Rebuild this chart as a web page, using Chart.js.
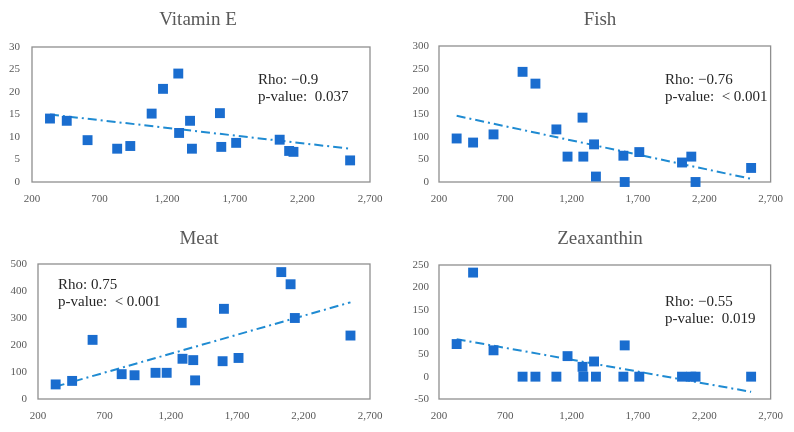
<!DOCTYPE html>
<html>
<head>
<meta charset="utf-8">
<script src="https://cdn.jsdelivr.net/npm/chart.js@4.4.1/dist/chart.umd.min.js"></script>
<style>
    body { margin: 0; background: #fff; }
    #wrap { position: relative; width: 794px; height: 432px; }
    .panel { position: absolute; width: 397px; height: 216px; }
</style>
</head>
<body>
<div id="wrap">
    <div class="panel" style="left:0;top:0"><canvas id="vitE" width="397" height="216"></canvas></div>
    <div class="panel" style="left:397px;top:0"><canvas id="fish" width="397" height="216"></canvas></div>
    <div class="panel" style="left:0;top:216px"><canvas id="meat" width="397" height="216"></canvas></div>
    <div class="panel" style="left:397px;top:216px"><canvas id="zea" width="397" height="216"></canvas></div>
</div>
<script>
// x values shared by all four panels
const intake = [333, 457, 611, 830, 927, 1085, 1169, 1282, 1288, 1369, 1383, 1590, 1600, 1710, 2032, 2102, 2134, 2553];

const vitaminE = [14.1, 13.6, 9.3, 7.4, 8.0, 15.2, 20.7, 24.1, 10.9, 13.6, 7.4, 15.3, 7.8, 8.7, 9.4, 6.9, 6.7, 4.8];
const fish = [96, 87, 105, 243, 217, 116, 56, 142, 56, 83, 12, 58, 0, 66, 43, 56, 0, 31];
const meat = [54, 67, 219, 92, 88, 97, 97, 282, 149, 144, 69, 140, 334, 152, 470, 425, 300, 235];
const zeaxanthin = [73, 233, 59, 0, 0, 0, 46, 22, 0, 34, 0, 0, 70, 0, 0, 0, 0, 0];

// trend line end points (start / end)
const trendX = [333, 2553];
const trendVitE = [15.0, 7.4];
const trendFish = [146, 7];
const trendMeat = [46, 358];
const trendZea = [84, -34];

const xTicks = [200, 700, 1200, 1700, 2200, 2700];

const serif = "'Liberation Serif', 'DejaVu Serif', serif";

// frame + title + rho text
const panelDeco = {
    id: 'panelDeco',
    beforeDatasetsDraw(chart) {
        const a = chart.chartArea;
        const ctx = chart.ctx;
        ctx.save();
        ctx.strokeStyle = '#8f8f8f';
        ctx.lineWidth = 1.3;
        ctx.strokeRect(a.left, a.top, a.right - a.left, a.bottom - a.top);
        ctx.restore();
    },
    afterDraw(chart) {
        const o = chart.options.plugins.panelDeco;
        const ctx = chart.ctx;
        ctx.save();
        ctx.fillStyle = '#595959';
        ctx.font = '19px ' + serif;
        ctx.textAlign = 'center';
        ctx.textBaseline = 'alphabetic';
        ctx.fillText(o.title, o.titleX, o.titleY);
        ctx.fillStyle = '#262626';
        ctx.font = '15px ' + serif;
        ctx.textAlign = 'left';
        ctx.fillText(o.rho, o.textX, o.textY);
        ctx.fillText(o.pval, o.textX, o.textY + 17);
        ctx.restore();
    }
};

function makePanel(id, values, trend, yMin, yMax, yStep, box, deco) {
    const points = intake.map((x, i) => ({ x: x, y: values[i] }));
    const line = trendX.map((x, i) => ({ x: x, y: trend[i] }));
    new Chart(document.getElementById(id), {
        type: 'scatter',
        data: {
            datasets: [{
                data: points,
                pointStyle: 'rect',
                pointRadius: 7,
                pointHoverRadius: 7,
                backgroundColor: '#1a6dcf',
                borderColor: '#1a6dcf',
                borderWidth: 0,
                clip: false,
                order: 1
            }, {
                type: 'line',
                data: line,
                borderColor: '#1f8bd2',
                borderWidth: 2,
                borderDash: [9, 4, 2, 4],
                pointRadius: 0,
                fill: false,
                clip: false,
                order: 2
            }]
        },
        options: {
            responsive: false,
            animation: false,
            events: [],
            layout: { padding: { left: 0, right: 397 - box.right, top: box.top, bottom: 0 } },
            plugins: {
                legend: { display: false },
                tooltip: { enabled: false },
                panelDeco: deco
            },
            scales: {
                x: {
                    type: 'linear',
                    min: 200,
                    max: 2700,
                    afterBuildTicks: s => { s.ticks = xTicks.map(v => ({ value: v })); },
                    afterFit: s => { s.height = 216 - box.bottom; },
                    grid: { display: false, drawTicks: false },
                    border: { display: false },
                    ticks: {
                        padding: 11,
                        color: '#595959',
                        font: { family: serif, size: 11 },
                        callback: v => v.toLocaleString('en-US')
                    }
                },
                y: {
                    min: yMin,
                    max: yMax,
                    afterFit: s => { s.width = box.left; },
                    grid: { display: false, drawTicks: false },
                    border: { display: false },
                    ticks: {
                        stepSize: yStep,
                        padding: box.tickPad,
                        color: '#595959',
                        font: { family: serif, size: 11 }
                    }
                }
            }
        },
        plugins: [panelDeco]
    });
}

makePanel('vitE', vitaminE, trendVitE, 0, 30, 5,
    { left: 32, right: 370, top: 47, bottom: 182, tickPad: 12 },
    { title: 'Vitamin E', titleX: 198, titleY: 25, rho: 'Rho: \u22120.9', pval: 'p-value:  0.037', textX: 258, textY: 84 });

makePanel('fish', fish, trendFish, 0, 300, 50,
    { left: 42, right: 376, top: 46, bottom: 182, tickPad: 10 },
    { title: 'Fish', titleX: 203, titleY: 25, rho: 'Rho: \u22120.76', pval: 'p-value:  < 0.001', textX: 268, textY: 84 });

makePanel('meat', meat, trendMeat, 0, 500, 100,
    { left: 38, right: 370, top: 48, bottom: 183, tickPad: 11 },
    { title: 'Meat', titleX: 199, titleY: 28, rho: 'Rho: 0.75', pval: 'p-value:  < 0.001', textX: 58, textY: 73 });

makePanel('zea', zeaxanthin, trendZea, -50, 250, 50,
    { left: 42, right: 376, top: 49, bottom: 183, tickPad: 10 },
    { title: 'Zeaxanthin', titleX: 203, titleY: 28, rho: 'Rho: \u22120.55', pval: 'p-value:  0.019', textX: 268, textY: 90 });
</script>
</body>
</html>
